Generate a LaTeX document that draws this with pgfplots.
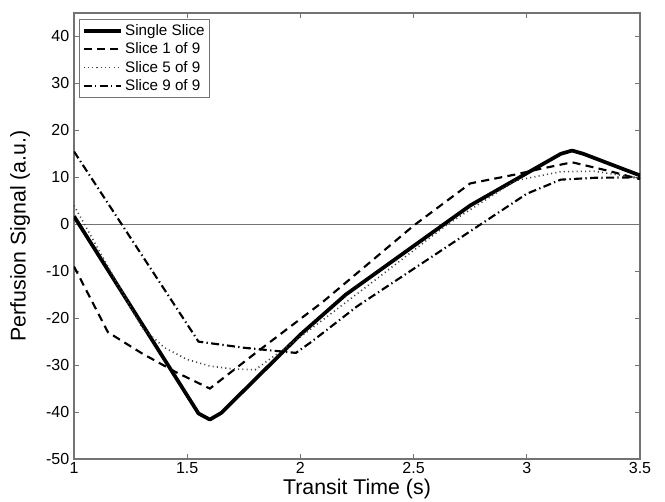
\documentclass[border=0pt]{standalone}
\usepackage{fontspec}
\setmainfont{Liberation Sans}
\usepackage{pgfplots}
\pgfplotsset{compat=1.18}
\begin{document}
\begin{tikzpicture}
\begin{axis}[
  scale only axis,
  width=424.5pt, height=334.5pt,
  xmin=1, xmax=3.5, ymin=-50, ymax=45,
  xtick={1,1.5,2,2.5,3,3.5},
  ytick={-50,-40,-30,-20,-10,0,10,20,30,40},
  /pgf/number format/assume math mode=true,
  ticklabel style={font=\fontsize{12pt}{13pt}\selectfont},
  xticklabel style={yshift=1pt},
  major tick length=3.75pt,
  tick style={black!55, line width=0.6pt},
  axis line style={black!55, line width=0.8pt},
  xlabel={Transit Time (s)},
  ylabel={Perfusion Signal (a.u.)},
  label style={font=\fontsize{16pt}{18pt}\selectfont},
  xlabel style={at={(axis description cs:0.5,-0.068)}, anchor=center},
  ylabel style={at={(axis description cs:-0.0954,0.5)}, anchor=center},
  legend style={at={(0,1)}, anchor=north west, xshift=3.75pt, yshift=-4.5pt,
    draw=black!55, line width=0.6pt, font=\fontsize{11.4pt}{12pt}\selectfont,
    inner sep=1.8pt, row sep=0pt},
  legend cell align=left,
  legend image code/.code={\draw[#1] (0pt,0pt) -- (27.75pt,0pt);},
]
\addplot[black!55, line width=0.6pt, forget plot] coordinates {(1,0) (3.5,0)};

% Single Slice
\addplot[black, line width=2.8pt, line join=round] coordinates {
(1,1.7) (1.55,-40.3) (1.6,-41.6) (1.65,-40.2) (2.0,-23.5) (2.2,-15) (2.75,4) (3.15,15) (3.2,15.7) (3.25,15) (3.5,10.4)
};
\addlegendentry{Single Slice}

% Slice 1 of 9
\addplot[black, line width=1.6pt, dash pattern=on 6pt off 4pt] coordinates {
(1,-9) (1.15,-23) (1.3,-27.5) (1.45,-31.5) (1.6,-35) (1.8,-27.5) (2.1,-16.5) (2.5,-0.3) (2.75,8.7) (2.95,10.6) (3.05,11.7) (3.2,13.2) (3.35,11.5) (3.5,9.6)
};
\addlegendentry{Slice 1 of 9}

% Slice 5 of 9
\addplot[black!75, line width=1.2pt, dash pattern=on 0.8pt off 2.4pt] coordinates {
(1,4) (1.3,-22) (1.4,-26.3) (1.5,-28.8) (1.6,-30.2) (1.7,-30.8) (1.8,-31) (2.0,-24) (2.3,-13) (2.65,0) (2.95,9.3) (3.15,11.2) (3.3,11.3) (3.5,9.8)
};
\addlegendentry{Slice 5 of 9}

% Slice 9 of 9
\addplot[black, line width=1.6pt, dash pattern=on 6pt off 2.5pt on 1pt off 2.5pt] coordinates {
(1,15.5) (1.55,-25) (1.75,-26.3) (1.98,-27.4) (2.05,-25) (2.25,-17.5) (2.75,-1.5) (3.0,6.5) (3.15,9.5) (3.3,9.9) (3.5,10)
};
\addlegendentry{Slice 9 of 9}
\end{axis}
\pgfresetboundingbox
\path (current axis.south west) ++(-55.5pt,-32.25pt) coordinate (bl);
\path (current axis.north east) ++(18.75pt,9.75pt) coordinate (tr);
\useasboundingbox (bl) rectangle (tr);
\end{tikzpicture}
\end{document}
